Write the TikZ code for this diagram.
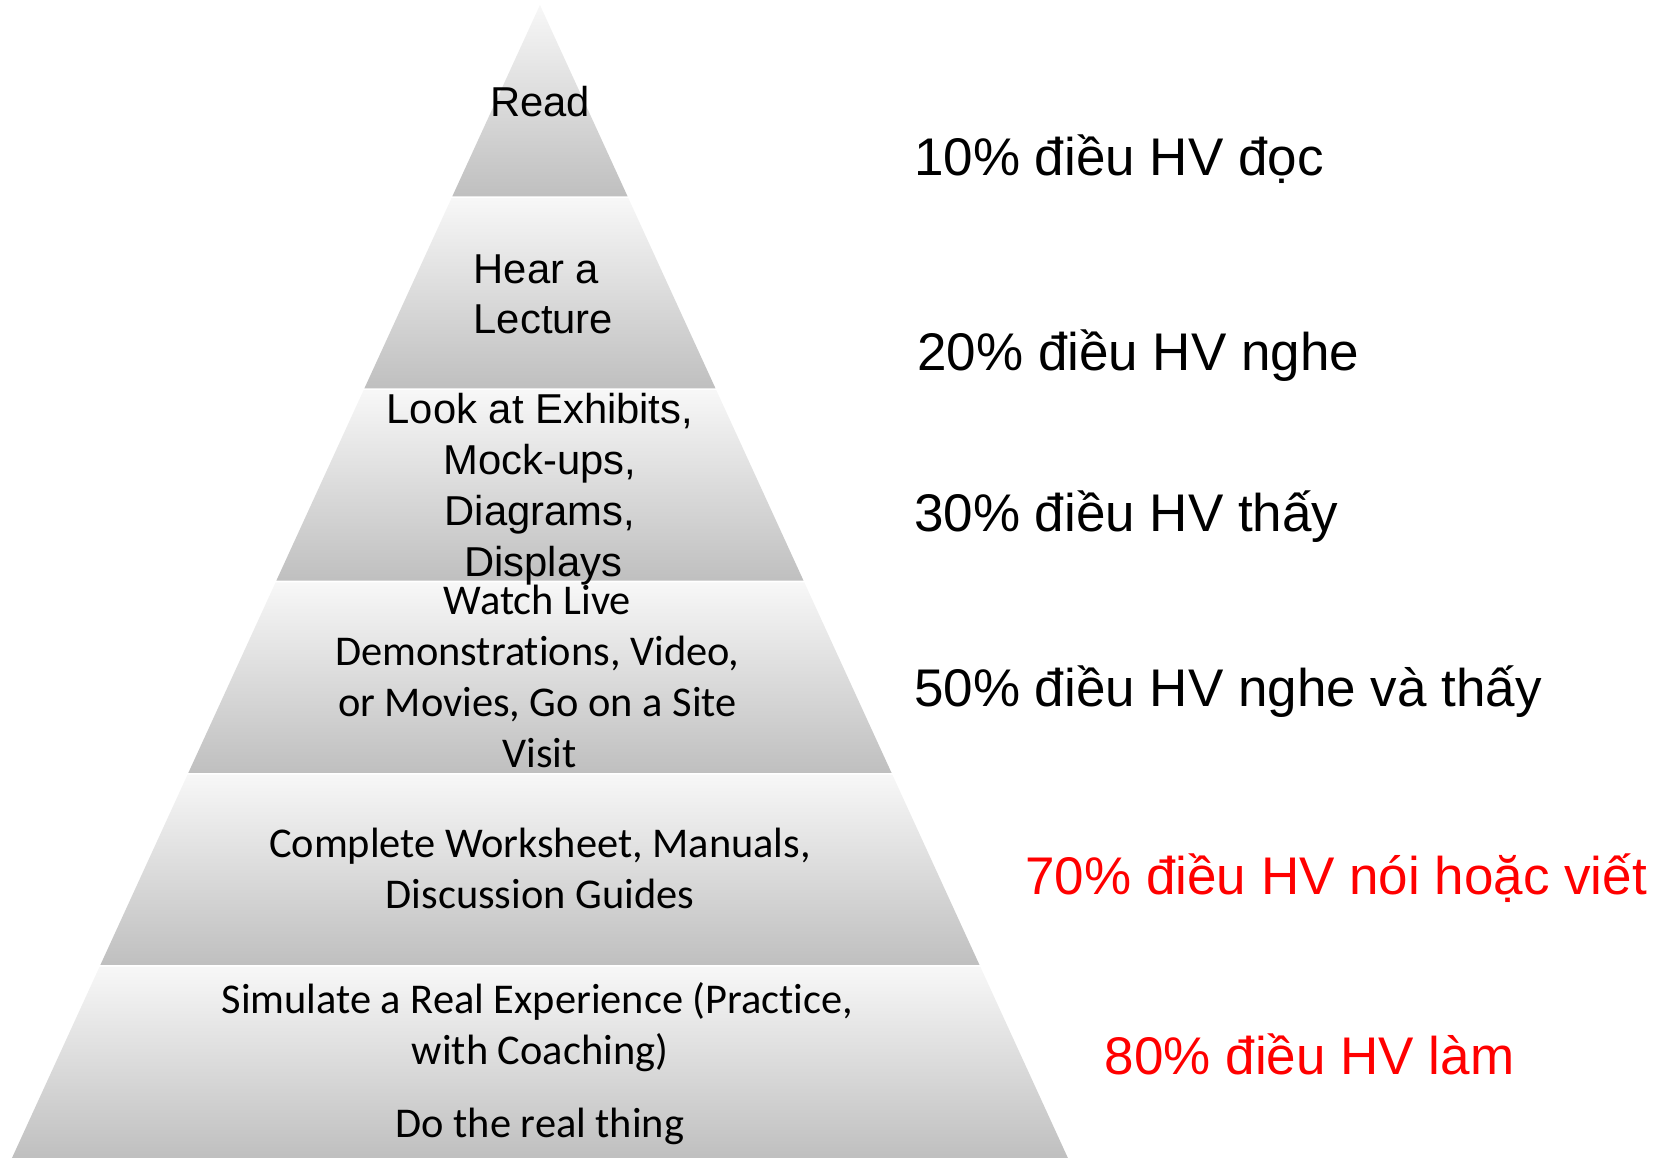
\documentclass[tikz,border=0pt]{standalone}
\usepackage{fontspec}
\setmainfont{Liberation Sans}
\newfontfamily\calibri[Ligatures=NoCommon]{Carlito}
\usetikzlibrary{positioning}
\definecolor{hotred}{RGB}{255,0,0}

\tikzset{
  band/.style={top color=black!3, bottom color=black!25, draw=none},
  arialtext/.style={font=\fontsize{19.7}{24}\selectfont, align=center, anchor=base, inner sep=0pt},
  calitext/.style={font=\calibri\fontsize{20}{24}\selectfont, align=center, anchor=base, inner sep=0pt},
  pcttext/.style={font=\fontsize{25}{30}\selectfont, anchor=base west, inner sep=0pt},
  pctred/.style={pcttext, text=hotred}
}

\begin{document}
\begin{tikzpicture}[x=0.5pt, y=-0.5pt]
    \useasboundingbox (0,0) rectangle (1568,1092.5);

    % pyramid bands
    \foreach \i in {0,...,5} {
        \pgfmathsetmacro{\yt}{4.7+181.3*\i+(\i>0)*0.8}
        \pgfmathsetmacro{\yb}{4.7+181.3*(\i+1)-(\i<5)*0.8}
        \pgfmathsetmacro{\wt}{0.4579*(\yt-4.7)}
        \pgfmathsetmacro{\wb}{0.4579*(\yb-4.7)}
        \shade[band] (509.4-\wt,\yt) -- (509.4+\wt,\yt) -- (509.4+\wb,\yb) -- (509.4-\wb,\yb) -- cycle;
    }

    % band labels (placed at the baseline of their last line)
    \node[arialtext] (read) at (509.4,110) {Read};
    \node[arialtext] (hear) at (506,315) {Hear a\\\hspace*{6.6pt}Lecture};
    \node[arialtext] (look) at (509.4,544) {Look at Exhibits,\\Mock-ups,\\Diagrams,\\\hspace*{3pt}Displays};
    \node[calitext] (watch) at (507,724) {Watch Live\\Demonstrations, Video,\\or Movies, Go on a Site\\\hspace*{2pt}Visit};
    \node[calitext] (complete) at (509.4,857) {Complete Worksheet, Manuals,\\Discussion Guides};
    \node[calitext] (simulate) at (507,1004) {Simulate a Real Experience (Practice,\\\hspace*{2.5pt}with Coaching)};
    \node[calitext] (real) at (509.4,1073) {Do the real thing};

    % retention labels
    \node[pcttext] (p10) at (862,166) {10\% điều HV đọc};
    \node[pcttext] (p20) at (865,350) {20\% điều HV nghe};
    \node[pcttext] (p30) at (862,501) {30\% điều HV thấy};
    \node[pcttext] (p50) at (862,667) {50\% điều HV nghe và thấy};
    \node[pctred] (p70) at (967,844) {70\% điều HV nói hoặc viết};
    \node[pctred] (p80) at (1042,1014) {80\% điều HV làm};
\end{tikzpicture}
\end{document}
